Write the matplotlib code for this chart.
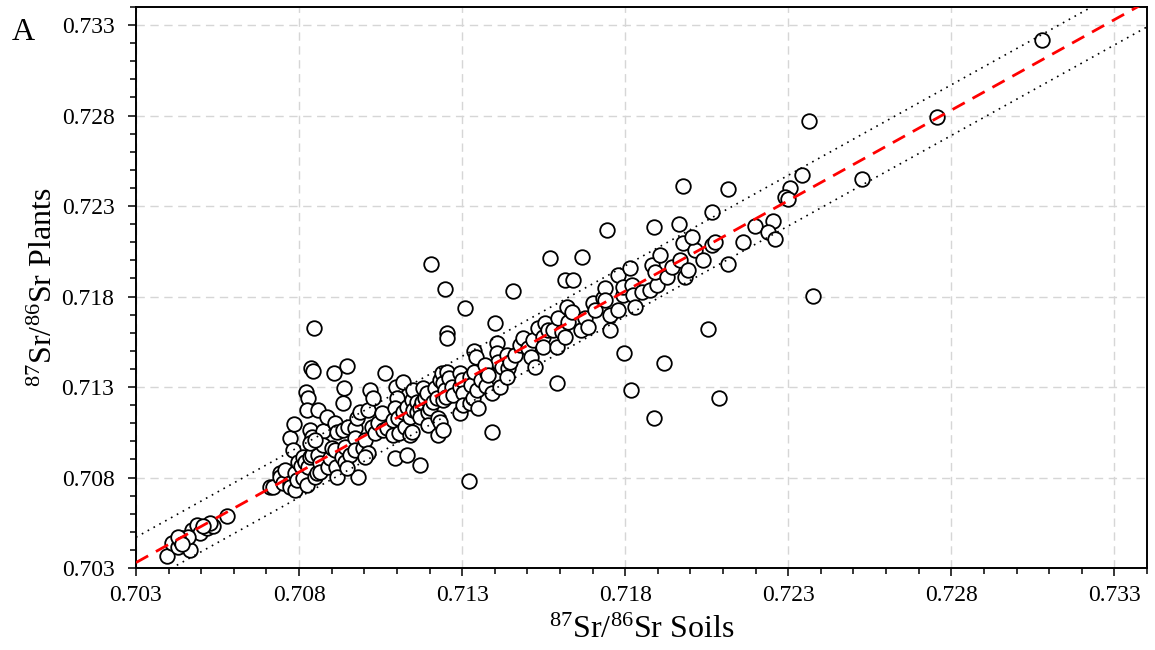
import matplotlib
matplotlib.use('Agg')
import matplotlib.pyplot as plt
import numpy as np

plt.rcParams['font.family'] = ['Liberation Serif', 'DejaVu Serif']
plt.rcParams['mathtext.fontset'] = 'custom'
plt.rcParams['mathtext.rm'] = 'Liberation Serif'
plt.rcParams['mathtext.it'] = 'Liberation Serif:italic'
plt.rcParams['mathtext.default'] = 'regular'

# ---- data: 87Sr/86Sr soils (x) vs plants (y) ----
soils_low = [0.70394, 0.70410, 0.70430, 0.70445, 0.70466, 0.70471, 0.70486, 0.70496, 0.70517,
             0.70537, 0.70527, 0.70578, 0.70435, 0.70460, 0.70429, 0.70506, 0.70440]
plants_low = [0.70366, 0.70436, 0.70418, 0.70464, 0.70399, 0.70510, 0.70538, 0.70492, 0.70519,
              0.70532, 0.70547, 0.70587, 0.70455, 0.70473, 0.70471, 0.70532, 0.70430]

soils_dense = [0.70711, 0.70720, 0.70742, 0.70742, 0.70751, 0.70757, 0.70772, 0.70772, 0.70772, 0.70782,
               0.70785, 0.70788, 0.70788, 0.70794, 0.70797, 0.70806, 0.70812, 0.70812, 0.70818, 0.70825,
               0.70821, 0.70828, 0.70825, 0.70828, 0.70834, 0.70834, 0.70837, 0.70843, 0.70840, 0.70840,
               0.70846, 0.70849, 0.70855, 0.70858, 0.70858, 0.70864, 0.70864, 0.70874, 0.70874, 0.70886,
               0.70889, 0.70895, 0.70901, 0.70907, 0.70910, 0.70910, 0.70917, 0.70913, 0.70917, 0.70932,
               0.70935, 0.70938, 0.70935, 0.70941, 0.70941, 0.70947, 0.70950, 0.70956, 0.70972, 0.70972,
               0.70972, 0.70978, 0.70981, 0.70987, 0.70996, 0.71002, 0.71012, 0.71012, 0.71018, 0.71024,
               0.71027, 0.71033, 0.71042, 0.71058, 0.71064, 0.70834, 0.70849, 0.71002, 0.70947]
plants_dense = [0.70748, 0.70748, 0.70825, 0.70803, 0.70770, 0.70841, 0.71018, 0.70770, 0.70748, 0.70952,
                0.71096, 0.70825, 0.70731, 0.70786, 0.70886, 0.70864, 0.70913, 0.70797, 0.70886, 0.70759,
                0.71272, 0.71239, 0.71173, 0.70858, 0.71062, 0.70913, 0.71405, 0.71388, 0.71024, 0.70924,
                0.71626, 0.70803, 0.70825, 0.71173, 0.70924, 0.70880, 0.70830, 0.71057, 0.70980, 0.71134,
                0.70858, 0.70908, 0.70963, 0.71377, 0.71101, 0.70952, 0.71051, 0.70858, 0.70803, 0.70913,
                0.71212, 0.71294, 0.71062, 0.70969, 0.70886, 0.71416, 0.71079, 0.70924, 0.71073, 0.71018,
                0.70952, 0.71129, 0.70803, 0.71162, 0.70963, 0.71007, 0.71173, 0.70935, 0.71283, 0.71079,
                0.71239, 0.71046, 0.71101, 0.71062, 0.71377, 0.70991, 0.71007, 0.70913, 0.70852]

soils_mid = [0.71055, 0.71070, 0.71088, 0.71088, 0.71094, 0.71098, 0.71101, 0.71094, 0.71104, 0.71107,
             0.71119, 0.71119, 0.71125, 0.71131, 0.71131, 0.71140, 0.71140, 0.71147, 0.71147, 0.71150,
             0.71150, 0.71162, 0.71162, 0.71171, 0.71171, 0.71171, 0.71177, 0.71180, 0.71187, 0.71193,
             0.71196, 0.71196, 0.71202, 0.71217, 0.71211, 0.71223, 0.71226, 0.71226, 0.71233, 0.71233,
             0.71239, 0.71242, 0.71242, 0.71242, 0.71248, 0.71251, 0.71254, 0.71260, 0.71269, 0.71272,
             0.71294, 0.71294, 0.71294, 0.71300, 0.71303, 0.71303, 0.71325, 0.71325, 0.71328, 0.71337,
             0.71334, 0.71346, 0.71349, 0.71358, 0.71377, 0.71374, 0.71392, 0.71392, 0.71417, 0.71321,
             0.71248, 0.71205, 0.71254, 0.71254, 0.71309]
plants_mid = [0.71156, 0.71073, 0.71118, 0.71035, 0.70908, 0.71300, 0.71239, 0.71184, 0.71129, 0.71046,
              0.71328, 0.71162, 0.71079, 0.71190, 0.70924, 0.71134, 0.71035, 0.71228, 0.71051, 0.71283,
              0.71173, 0.71217, 0.71162, 0.71184, 0.71134, 0.70869, 0.71217, 0.71294, 0.71239, 0.71267,
              0.71162, 0.71090, 0.71184, 0.71294, 0.71217, 0.71239, 0.71129, 0.71035, 0.71339, 0.71107,
              0.71377, 0.71322, 0.71228, 0.71062, 0.71283, 0.71245, 0.71383, 0.71350, 0.71300, 0.71256,
              0.71377, 0.71300, 0.71156, 0.71339, 0.71267, 0.71201, 0.71355, 0.71212, 0.71311, 0.71383,
              0.71239, 0.71283, 0.71184, 0.71339, 0.71377, 0.71306, 0.71267, 0.71051, 0.71300, 0.70781,
              0.71841, 0.71980, 0.71598, 0.71571, 0.71736]

soils_upper = [0.71337, 0.71343, 0.71401, 0.71407, 0.71407, 0.71410, 0.71423, 0.71438, 0.71441, 0.71438,
               0.71447, 0.71463, 0.71478, 0.71487, 0.71502, 0.71512, 0.71518, 0.71524, 0.71533, 0.71548,
               0.71548, 0.71555, 0.71564, 0.71579, 0.71591, 0.71591, 0.71594, 0.71607, 0.71616, 0.71622,
               0.71625, 0.71637, 0.71456, 0.71570, 0.71668, 0.71616, 0.71640, 0.71371, 0.71380]
plants_upper = [0.71499, 0.71466, 0.71654, 0.71543, 0.71488, 0.71438, 0.71410, 0.71477, 0.71405, 0.71355,
                0.71438, 0.71477, 0.71532, 0.71571, 0.71515, 0.71466, 0.71560, 0.71410, 0.71626, 0.71576,
                0.71521, 0.71654, 0.71615, 0.71615, 0.71521, 0.71322, 0.71681, 0.71604, 0.71576, 0.71742,
                0.71659, 0.71714, 0.71830, 0.72013, 0.72018, 0.71891, 0.71891, 0.71422, 0.71366]

soils_high = [0.71665, 0.71677, 0.71687, 0.71702, 0.71708, 0.71733, 0.71739, 0.71739, 0.71745, 0.71754,
              0.71754, 0.71779, 0.71779, 0.71794, 0.71794, 0.71797, 0.71815, 0.71821, 0.71825, 0.71831,
              0.71818, 0.71852, 0.71877, 0.71898, 0.71883, 0.71892, 0.71907, 0.71929, 0.71944, 0.71969,
              0.71984, 0.71993, 0.71978, 0.72015, 0.72006, 0.72039, 0.72067, 0.72076, 0.72067, 0.71889,
              0.71966, 0.71978, 0.72116, 0.72116, 0.72162, 0.72199, 0.72254, 0.72239, 0.72260, 0.72306,
              0.72291, 0.72300, 0.72343, 0.72364, 0.72527, 0.72377, 0.72757, 0.73079, 0.72055, 0.71920,
              0.72088, 0.71889]
plants_high = [0.71615, 0.71681, 0.71632, 0.71764, 0.71725, 0.71792, 0.71847, 0.71781, 0.72167, 0.71698,
               0.71615, 0.71725, 0.71919, 0.71808, 0.71852, 0.71488, 0.71957, 0.71864, 0.71808, 0.71742,
               0.71283, 0.71825, 0.71836, 0.71864, 0.71974, 0.71935, 0.72029, 0.71908, 0.71963, 0.72002,
               0.71908, 0.71946, 0.72096, 0.72057, 0.72129, 0.72002, 0.72085, 0.72101, 0.72267, 0.72184,
               0.72201, 0.72410, 0.72394, 0.71980, 0.72101, 0.72190, 0.72217, 0.72156, 0.72118, 0.72399,
               0.72350, 0.72339, 0.72471, 0.72770, 0.72449, 0.71803, 0.72792, 0.73217, 0.71620, 0.71433,
               0.71239, 0.71129]

soils = soils_low + soils_dense + soils_mid + soils_upper + soils_high
plants = plants_low + plants_dense + plants_mid + plants_upper + plants_high

fit_offset = 0.0003      # red dashed line: plants = soils + offset
band_halfwidth = 0.0014  # dotted lines around it

tick_values = [0.703, 0.708, 0.713, 0.718, 0.723, 0.728, 0.733]
axis_min, axis_max = 0.703, 0.734

# ---- figure ----
fig = plt.figure(figsize=(11.55, 6.5), dpi=100)
ax = fig.add_axes([136/1155, 1-568/650, (1147-136)/1155, (568-7)/650])

ax.set_xlim(axis_min, axis_max)
ax.set_ylim(axis_min, axis_max)

ax.grid(True, which='major', color='#d6d6d6', linestyle=(0, (6, 4)), linewidth=1.0)
ax.set_axisbelow(True)

ax.plot(soils, plants, linestyle='none', marker='o', markersize=10.5,
        markerfacecolor='white', markeredgecolor='black', markeredgewidth=1.3, zorder=2)

xs = np.array([axis_min, axis_max])
ax.plot(xs, xs + fit_offset, color='#ff0000', linewidth=2.0, dashes=(5, 3.2), zorder=3)
ax.plot(xs, xs + fit_offset + band_halfwidth, color='black', linewidth=1.2, dashes=(1, 3), zorder=3)
ax.plot(xs, xs + fit_offset - band_halfwidth, color='black', linewidth=1.2, dashes=(1, 3), zorder=3)

ax.set_xticks(tick_values)
ax.set_yticks(tick_values)
ax.set_xticklabels(['%.3f' % v for v in tick_values])
ax.set_yticklabels(['%.3f' % v for v in tick_values])
minor = np.arange(0.703, 0.7345, 0.001)
ax.set_xticks(minor, minor=True)
ax.set_yticks(minor, minor=True)

ax.tick_params(which='both', direction='out', width=1.1, top=False, right=False)
ax.tick_params(which='major', length=5.5, labelsize=17)
ax.tick_params(which='minor', length=4.2)
ax.tick_params(axis='x', which='major', pad=7)
ax.tick_params(axis='y', which='major', pad=10)

for s in ax.spines.values():
    s.set_linewidth(1.4)

ax.set_xlabel(r'$^{87}$Sr/$^{86}$Sr Soils', fontsize=23, labelpad=7)
ax.set_ylabel(r'$^{87}$Sr/$^{86}$Sr Plants', fontsize=23, labelpad=2)

fig.text(12/1155, 1-40/650, 'A', fontsize=23, ha='left', va='baseline')

fig.savefig('out.png', dpi=100)
